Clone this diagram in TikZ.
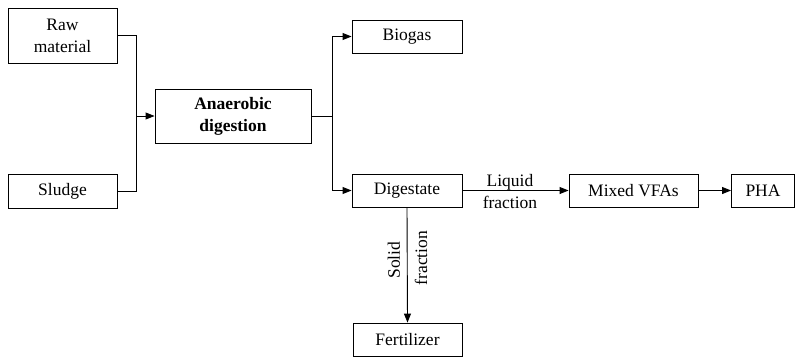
\documentclass[tikz,border=0pt]{standalone}
\usepackage{fontspec}
\setmainfont{Liberation Serif}
\usetikzlibrary{arrows.meta}
\begin{document}
\begin{tikzpicture}[x=1pt,y=-1pt,
  box/.style={draw, line width=0.9pt, inner sep=0pt, align=center,
    font=\fontsize{17.5}{22}\selectfont},
  link/.style={line width=0.9pt},
  flow/.style={line width=0.9pt, -{Triangle[length=9pt,width=7pt]}},
  lbl/.style={font=\fontsize{17.5}{22}\selectfont, align=center, inner sep=0pt}]
\useasboundingbox (0,0) rectangle (795,360);

% process boxes
\node[box, minimum width=109pt, minimum height=55pt] (raw) at (62.5,35.5) {Raw\\material};
\node[box, minimum width=109pt, minimum height=34pt] (sludge) at (62.5,191) {Sludge};
\node[box, minimum width=156pt, minimum height=54pt, font=\fontsize{17.5}{22}\selectfont\bfseries] (ad) at (233,116) {Anaerobic\\digestion};
\node[box, minimum width=110pt, minimum height=33pt] (biogas) at (407,36.5) {Biogas};
\node[box, minimum width=110pt, minimum height=33pt] (dig) at (407,190.5) {Digestate};
\node[box, minimum width=109pt, minimum height=33pt] (fert) at (407.5,339.5) {Fertilizer};
\node[box, minimum width=129pt, minimum height=33pt] (vfa) at (633.5,190.5) {Mixed VFAs};
\node[box, minimum width=63pt, minimum height=33pt] (pha) at (763,190.5) {PHA};

% feed streams merging into the digester
\coordinate (jin) at (136,116);
\coordinate (jout) at (332,116);
\draw[link] (raw.east) -| (jin);
\draw[link] (sludge.east) -| (jin);
\draw[flow] (jin) -- (ad.west);

% digester outputs
\draw[link] (ad.east) -- (jout);
\draw[flow] (jout) |- (biogas.west);
\draw[flow] (jout) |- (dig.west);

% digestate separation
\draw[flow] (dig.east) -- (vfa.west);
\node[lbl] (liq) at (510,192) {Liquid\\fraction};
\draw[flow] (vfa.east) -- (pha.west);
\draw[flow] (dig.south) -- (fert.north);
\node[lbl, rotate=90] (sol) at (394,260) {Solid};
\node[lbl, rotate=90] (frac) at (421,258) {fraction};
\end{tikzpicture}
\end{document}
